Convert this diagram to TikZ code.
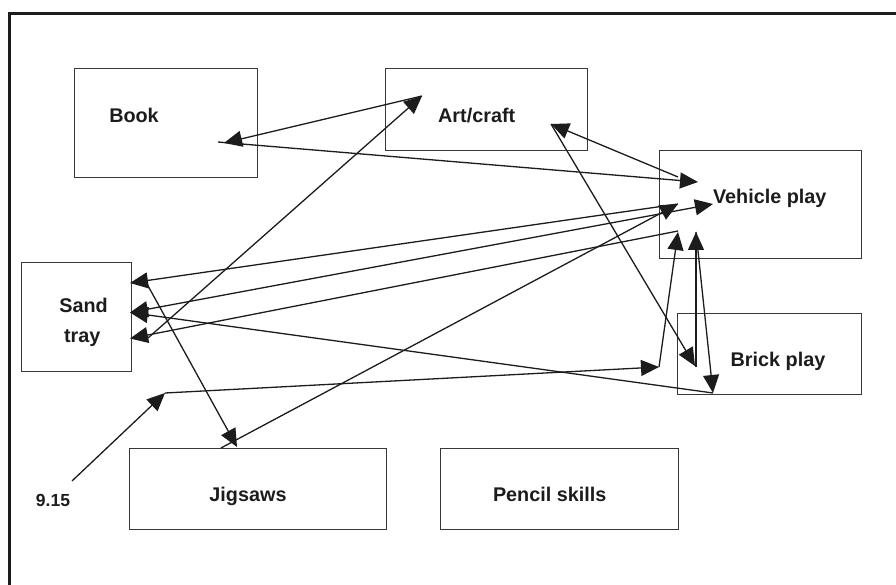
\documentclass[tikz,border=0pt]{standalone}
\usepackage{fontspec}
\setmainfont{Liberation Sans}
\usetikzlibrary{arrows.meta}
\definecolor{boxgray}{HTML}{383838}
\definecolor{ln}{HTML}{1C1C1C}
\definecolor{txt}{HTML}{1C1C1C}
\begin{document}
\begin{tikzpicture}[x=1pt,y=-1pt,
  box/.style={draw=boxgray,line width=1.4pt,inner sep=0pt,anchor=north west},
  lbl/.style={font=\bfseries\fontsize{19.8}{24}\selectfont,text=txt,inner sep=0pt,anchor=base},
  smalllbl/.style={font=\bfseries\fontsize{17.5}{21}\selectfont,text=txt,inner sep=0pt,anchor=base},
  conn/.style={draw=ln,line width=1.3pt,-{Triangle[length=18pt,width=16pt]}},
  dconn/.style={draw=ln,line width=1.3pt,{Triangle[length=18pt,width=16pt]}-{Triangle[length=18pt,width=16pt]}},
  frame/.style={draw=ln,line width=2.4pt}
]
\useasboundingbox (0,0) rectangle (896,585);
% outer frame (only left and top edges visible)
\coordinate (fbl) at (9.5,590);
\coordinate (ftl) at (9.5,13.5);
\coordinate (ftr) at (900,13.5);
\draw[frame] (fbl) -- (ftl) -- (ftr);

% boxes
\node[box,minimum width=183pt,minimum height=109pt] (book) at (74,68) {};
\node[box,minimum width=202pt,minimum height=82pt] (art) at (385,68) {};
\node[box,minimum width=202pt,minimum height=108pt] (veh) at (659,150) {};
\node[box,minimum width=110pt,minimum height=109pt] (sand) at (21,262) {};
\node[box,minimum width=257pt,minimum height=81pt] (jig) at (129,448) {};
\node[box,minimum width=238pt,minimum height=81pt] (pen) at (440,448) {};
\node[box,minimum width=184pt,minimum height=81pt] (brick) at (677,313) {};

% labels
\node[lbl] (bookT) at (134,122.7) {Book};
\node[lbl] (artT) at (476.7,122.7) {Art/craft};
\node[lbl] (vehT) at (769.7,204) {Vehicle play};
\node[lbl] (sandT) at (83.5,312.3) {Sand};
\node[lbl] (trayT) at (82.2,342.3) {tray};
\node[lbl] (jigT) at (248,501.7) {Jigsaws};
\node[lbl] (penT) at (549.7,501.7) {Pencil skills};
\node[lbl] (brickT) at (778,366.7) {Brick play};
\node[smalllbl] (timeT) at (53,506.7) {9.15};

% connector end points
\coordinate (bookTail) at (218,142);
\coordinate (bookIn) at (224,143);
\coordinate (artIn) at (422,96);
\coordinate (artIn2) at (551,124);
\coordinate (vehTop) at (698,182);
\coordinate (vehOut) at (678,177);
\coordinate (vehMid) at (678,204);
\coordinate (vehMid2) at (713,204);
\coordinate (vehLow) at (678,231);
\coordinate (vehB1) at (678,232);
\coordinate (vehB2) at (696,232);
\coordinate (sandA) at (130,283);
\coordinate (sandAout) at (147,284);
\coordinate (sandB) at (130,312.5);
\coordinate (sandC) at (130,338.5);
\coordinate (sandCout) at (148,338);
\coordinate (jigA) at (237,447);
\coordinate (jigOut) at (221,448);
\coordinate (brickA) at (695,366);
\coordinate (brickB) at (696,367);
\coordinate (brickC) at (713,393);
\coordinate (tStart) at (72,481);
\coordinate (tBend1) at (165,393);
\coordinate (tBend2) at (659,367);

% connectors
\draw[conn] (bookTail) -- (vehTop);
\draw[conn] (artIn) -- (bookIn);
\draw[conn] (sandCout) -- (artIn);
\draw[conn] (vehOut) -- (artIn2);
\draw[conn] (artIn2) -- (brickA);
\draw[conn] (vehMid) -- (sandA);
\draw[conn] (jigOut) -- (vehMid);
\draw[dconn] (sandB) -- (vehMid2);
\draw[conn] (vehLow) -- (sandC);
\draw[conn] (sandAout) -- (jigA);
\draw[conn] (brickC) -- (sandB);
\draw[conn] (brickB) -- (vehB2);
\draw[conn] (vehB2) -- (brickC);
\draw[conn] (tStart) -- (tBend1);
\draw[conn] (tBend1) -- (tBend2);
\draw[conn] (tBend2) -- (vehB1);
\end{tikzpicture}
\end{document}
